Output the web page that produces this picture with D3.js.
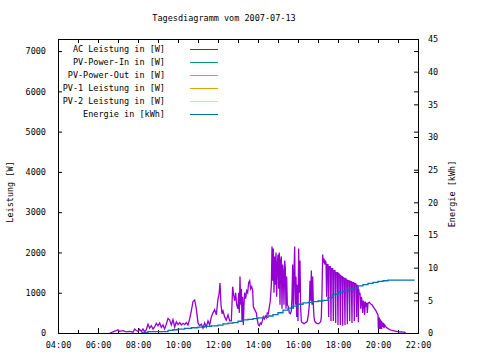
<!DOCTYPE html>
<html>
<head>
<meta charset="utf-8">
<script src="https://cdn.jsdelivr.net/npm/d3@7"></script>
<style>
body { margin: 0; background: #fff; }
svg text { font-family: "DejaVu Sans Mono", monospace; font-size: 8.5px; fill: #000; }
</style>
</head>
<body>
<div id="chart"></div>
<script>
var chartTitle = "Tagesdiagramm vom 2007-07-13";

var seriesNames = ["AC Leistung in [W]", "PV-Power-In in [W]", "PV-Power-Out in [W]",
                   "PV-1 Leistung in [W]", "PV-2 Leistung in [W]", "Energie in [kWh]"];
var seriesColors = ["#9400d3", "#009e73", "#56b4e9", "#e69f00", "#f0e442", "#0072b2"];

var hourTicks = [4, 5, 6, 7, 8, 9, 10, 11, 12, 13, 14, 15, 16, 17, 18, 19, 20, 21, 22];
var hourLabels = [4, 6, 8, 10, 12, 14, 16, 18, 20, 22];
var powerTicks = [0, 1000, 2000, 3000, 4000, 5000, 6000, 7000];
var energyTicks = [0, 5, 10, 15, 20, 25, 30, 35, 40, 45];

// AC Leistung [W]
var acPower = [
  ["06:36",0],["06:45",30],["06:55",60],["07:00",80],["07:05",40],["07:15",60],["07:25",30],
  ["07:35",40],["07:45",20],["07:50",100],["07:55",60],["08:00",40],["08:05",90],["08:10",40],
  ["08:15",100],["08:20",30],["08:25",80],["08:30",220],["08:35",120],["08:40",180],["08:45",100],
  ["08:50",150],["08:55",240],["09:00",180],["09:05",250],["09:10",140],["09:15",200],["09:20",100],
  ["09:25",220],["09:30",360],["09:35",320],["09:40",200],["09:45",330],["09:50",150],["09:55",280],
  ["10:00",210],["10:05",260],["10:10",200],["10:15",240],["10:20",210],["10:25",260],["10:30",200],
  ["10:35",350],["10:40",550],["10:45",780],["10:50",820],["10:55",600],["11:00",250],["11:05",180],
  ["11:10",220],["11:15",120],["11:20",250],["11:25",150],["11:30",300],["11:35",200],["11:40",400],
  ["11:45",500],["11:50",580],["11:55",450],["12:00",850],["12:03",950],["12:06",1240],["12:09",700],
  ["12:12",480],["12:15",550],["12:20",400],["12:25",320],["12:30",450],["12:35",300],["12:40",300],
  ["12:44",1150],["12:47",950],["12:50",800],["12:53",1000],["12:56",700],
  ["13:00",600],["13:02",1000],["13:04",500],["13:06",1400],["13:08",700],["13:10",1100],["13:12",300],
  ["13:14",900],["13:16",200],["13:18",700],["13:20",1000],["13:23",850],["13:26",1050],["13:29",1000],
  ["13:32",1250],["13:35",1300],["13:38",1100],["13:41",1150],["13:44",1050],["13:46",650],["13:49",600],
  ["13:52",550],["13:55",500],["13:58",320],["14:01",200],["14:04",180],["14:07",250],["14:10",220],
  ["14:13",300],["14:16",400],["14:19",350],["14:22",420],["14:25",380],["14:28",500],["14:31",480],
  ["14:34",650],["14:37",800],["14:40",1200],["14:42",2150],["14:44",1300],["14:46",2100],
  ["14:48",1000],["14:50",1900],["14:52",1200],["14:54",2000],["14:56",900],["14:58",1700],
  ["15:00",1950],["15:02",1100],["15:04",2000],["15:06",700],["15:08",1800],
  ["15:10",1900],["15:12",600],["15:14",1700],["15:16",1500],["15:18",700],["15:20",1800],
  ["15:22",1600],["15:24",600],["15:26",1400],["15:28",700],["15:31",650],["15:34",500],
  ["15:37",480],["15:40",550],["15:42",900],["15:44",1700],["15:46",600],["15:48",1500],
  ["15:50",2150],["15:52",700],["15:54",1400],["15:56",400],["15:58",1200],["16:00",300],
  ["16:02",2100],["16:04",1000],["16:06",1800],["16:08",600],["16:10",300],["16:12",260],["16:15",250],
  ["16:18",230],["16:21",250],["16:25",270],["16:28",300],["16:31",450],["16:34",700],["16:36",1300],
  ["16:38",800],["16:40",1550],["16:42",700],["16:44",1400],["16:46",700],["16:48",400],["16:50",300],
  ["16:53",260],["16:56",240],["17:00",230],["17:04",250],["17:08",280],["17:10",400],["17:12",1000],
  ["17:14",1950],["17:16",1750],["17:18",1850],["17:20",1700],["17:22",1800],["17:24",1750],["17:26",900],
  ["17:27",1700],["17:30",1700],["17:32",400],["17:33",1650],["17:37",1650],["17:39",300],["17:40",1600],
  ["17:44",1600],["17:46",300],["17:47",1550],["17:51",1550],["17:53",250],["17:54",1500],["17:58",1500],
  ["18:00",200],["18:01",1480],["18:05",1450],["18:07",200],["18:08",1420],["18:12",1400],["18:14",180],
  ["18:15",1380],["18:19",1350],["18:21",200],["18:22",1350],["18:26",1330],["18:28",220],["18:29",1300],
  ["18:33",1300],["18:35",300],["18:36",1280],["18:40",1270],["18:42",250],["18:43",1260],["18:47",1250],
  ["18:49",300],["18:50",1230],["18:54",1220],["18:56",400],["18:57",1200],["19:00",1150],["19:01",270],
  ["19:02",1100],["19:04",950],["19:06",1000],["19:08",600],["19:10",900],["19:12",800],["19:14",500],
  ["19:16",800],["19:18",750],["19:20",450],["19:22",780],["19:24",700],["19:26",750],["19:28",500],
  ["19:30",740],["19:34",760],["19:38",720],["19:42",700],["19:46",650],["19:50",600],["19:54",550],
  ["19:58",480],["20:00",450],["20:01",120],["20:02",400],["20:03",100],["20:04",380],["20:05",120],
  ["20:06",350],["20:07",100],["20:08",320],["20:09",120],["20:10",300],["20:11",100],["20:12",280],
  ["20:14",150],["20:16",250],["20:18",120],["20:20",200],["20:24",150],["20:28",120],["20:32",100],
  ["20:36",80],["20:40",70],["20:45",60],["20:50",50],["20:55",40],["21:00",30],["21:05",30],
  ["21:10",25],["21:15",20],["21:20",20],["21:23",0]
];

// Energie [kWh]
var energy = [
  ["08:10",0.1],["08:30",0.2],["09:30",0.4],["09:45",0.5],["10:00",0.6],["10:20",0.7],["10:40",0.8],
  ["11:00",0.9],["11:20",1.0],["11:40",1.1],["12:00",1.2],["12:15",1.4],["12:30",1.5],["12:45",1.6],
  ["13:00",1.8],["13:15",2.0],["13:30",2.1],["13:45",2.2],["14:00",2.3],["14:15",2.4],["14:30",2.6],
  ["14:45",2.8],["15:00",3.1],["15:15",3.5],["15:30",3.8],["15:45",4.1],["16:00",4.4],["16:15",4.6],
  ["16:30",4.7],["16:45",4.8],["17:00",4.9],["17:15",5.0],["17:30",5.4],["17:45",5.9],["18:00",6.2],
  ["18:15",6.4],["18:30",6.7],["18:45",6.9],["19:00",7.2],["19:15",7.4],["19:30",7.6],["19:45",7.75],
  ["20:00",7.9],["20:15",8.0],["20:30",8.1],["21:50",8.1]
];

function hours(s){
	var p = s.split(":");
	return +p[0] + (+p[1]) / 60;
}
function pad(n){ return (n < 10 ? "0" : "") + n; }

var W = 480, H = 360;
var plotLeft = 58, plotRight = 418, plotTop = 39, plotBottom = 333;

var svg = d3.select("#chart").append("svg")
	.attr("width", W)
	.attr("height", H);

var x = d3.scaleLinear().domain([4, 22]).range([plotLeft, plotRight]);
var y = d3.scaleLinear().domain([0, 7300]).range([plotBottom, plotTop]);
var y2 = d3.scaleLinear().domain([0, 45]).range([plotBottom, plotTop]);

// title
svg.append("text")
	.attr("x", 224).attr("y", 21)
	.attr("text-anchor", "middle")
	.text(chartTitle);

// axes (ticks inward like gnuplot)
function styleAxis(g){
	g.select(".domain").remove();
	g.selectAll("line").attr("stroke", "#000");
	g.selectAll("text").attr("font-family", null).attr("font-size", null).attr("fill", "#000");
}

svg.append("g").attr("transform", "translate(0," + plotBottom + ")")
	.call(d3.axisBottom(x).tickValues(hourTicks.filter(function(h){return h % 2 == 1})).tickSize(-3).tickFormat(""))
	.call(styleAxis);
svg.append("g").attr("transform", "translate(0," + plotBottom + ")")
	.call(d3.axisBottom(x).tickValues(hourLabels).tickSize(-5).tickPadding(9)
		.tickFormat(function(h){return pad(h) + ":00"}))
	.call(styleAxis);
svg.append("g").attr("transform", "translate(0," + plotTop + ")")
	.call(d3.axisTop(x).tickValues(hourTicks).tickSize(-4).tickFormat(""))
	.call(styleAxis);

svg.append("g").attr("transform", "translate(" + plotLeft + ",0)")
	.call(d3.axisLeft(y).tickValues(powerTicks).tickSize(-4).tickPadding(12).tickFormat(d3.format("d")))
	.call(styleAxis);
svg.append("g").attr("transform", "translate(" + plotRight + ",0)")
	.call(d3.axisRight(y).tickValues(powerTicks).tickSize(-4).tickFormat(""))
	.call(styleAxis);
svg.append("g").attr("transform", "translate(" + plotRight + ",0)")
	.call(d3.axisRight(y2).tickValues(energyTicks).tickSize(-4).tickPadding(10))
	.call(styleAxis);

// axis titles
svg.append("text")
	.attr("transform", "translate(13," + 192 + ") rotate(-90)")
	.attr("text-anchor", "middle")
	.text("Leistung [W]");
svg.append("text")
	.attr("transform", "translate(455," + 194 + ") rotate(-90)")
	.attr("text-anchor", "middle")
	.text("Energie [kWh]");

// data lines
var acLine = d3.line()
	.x(function(d){return x(hours(d[0]))})
	.y(function(d){return y(d[1])});
var energyLine = d3.line()
	.curve(d3.curveStepAfter)
	.x(function(d){return x(hours(d[0]))})
	.y(function(d){return y2(d[1])});

svg.append("path")
	.datum(acPower)
	.attr("d", acLine)
	.attr("fill", "none")
	.attr("stroke", seriesColors[0])
	.attr("stroke-width", 1.3);

svg.append("path")
	.datum(energy)
	.attr("d", energyLine)
	.attr("fill", "none")
	.attr("stroke", seriesColors[5])
	.attr("stroke-width", 1.3);

// border
svg.append("rect")
	.attr("x", plotLeft + 0.5).attr("y", plotTop + 0.5)
	.attr("width", plotRight - plotLeft).attr("height", plotBottom - plotTop)
	.attr("fill", "none")
	.attr("stroke", "#000")
	.attr("stroke-width", 1);

// legend
var legend = svg.selectAll("g.legend")
	.data(seriesNames)
	.enter()
	.append("g")
	.attr("class", "legend")
	.attr("transform", function(d, i){return "translate(0," + (49.5 + i * 13) + ")"});

legend.append("text")
	.attr("x", 165)
	.attr("dy", "0.35em")
	.attr("text-anchor", "end")
	.text(function(d){return d});

legend.append("line")
	.attr("x1", 190).attr("x2", 218)
	.attr("stroke", function(d, i){return seriesColors[i]})
	.attr("stroke-width", 1);
</script>
</body>
</html>
